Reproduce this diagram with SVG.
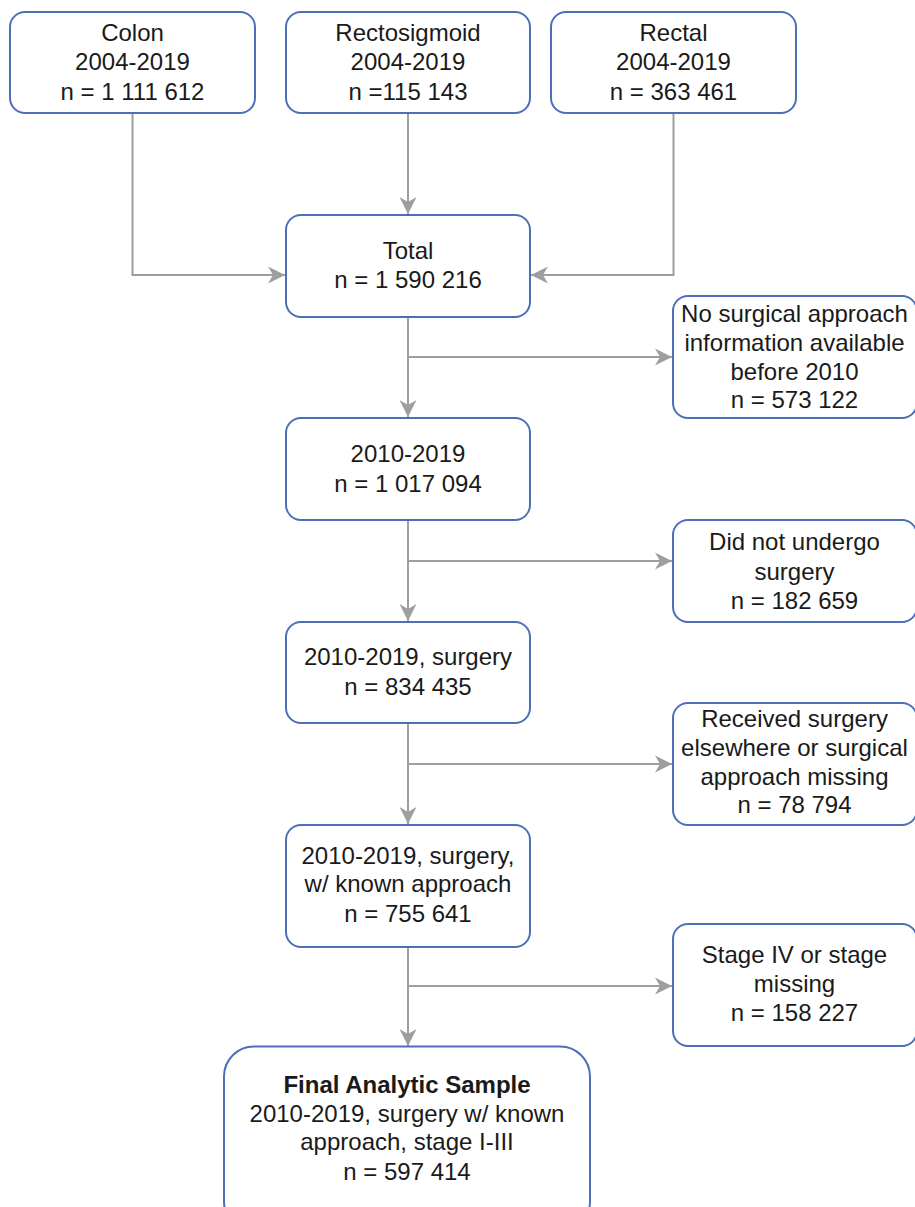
<svg xmlns="http://www.w3.org/2000/svg" width="915" height="1207" viewBox="0 0 915 1207">
<style>
.box{fill:#ffffff;stroke:#4d6fb8;stroke-width:2}
.t{font-family:"Liberation Sans",Arial,sans-serif;font-size:24px;fill:#1a1a1a;text-anchor:middle}
.b{font-weight:bold}
.c{fill:none;stroke:#9e9e9e;stroke-width:2}
</style>
<defs>
<marker id="arr" markerUnits="userSpaceOnUse" markerWidth="20" markerHeight="20" viewBox="-18 -10 20 20" refX="0" refY="0" orient="auto">
<path d="M0,0 L-17,-8.5 L-12,0 L-17,8.5 Z" fill="#9e9e9e"/>
</marker>
</defs>
<rect width="915" height="1207" fill="#ffffff"/>
<g id="connectors">
<path class="c" d="M132.5,113 V275 H285" marker-end="url(#arr)"/>
<path class="c" d="M408,113 V214" marker-end="url(#arr)"/>
<path class="c" d="M673.5,113 V275 H531" marker-end="url(#arr)"/>
<path class="c" d="M408,317 V417" marker-end="url(#arr)"/>
<path class="c" d="M408,357 H672" marker-end="url(#arr)"/>
<path class="c" d="M408,520 V621" marker-end="url(#arr)"/>
<path class="c" d="M408,561 H672" marker-end="url(#arr)"/>
<path class="c" d="M408,723 V824" marker-end="url(#arr)"/>
<path class="c" d="M408,764 H672" marker-end="url(#arr)"/>
<path class="c" d="M408,947 V1046" marker-end="url(#arr)"/>
<path class="c" d="M408,986 H672" marker-end="url(#arr)"/>
</g>
<g id="colon">
<rect class="box" x="10" y="12" width="245" height="101" rx="15"/>
<text class="t" x="132.5" y="41">Colon</text>
<text class="t" x="132.5" y="70">2004-2019</text>
<text class="t" x="132.5" y="100">n = 1 111 612</text>
</g>
<g id="rectosigmoid">
<rect class="box" x="286" y="12" width="244" height="101" rx="15"/>
<text class="t" x="408" y="41">Rectosigmoid</text>
<text class="t" x="408" y="70">2004-2019</text>
<text class="t" x="408" y="100">n =115 143</text>
</g>
<g id="rectal">
<rect class="box" x="551" y="12" width="245" height="101" rx="15"/>
<text class="t" x="673.5" y="41">Rectal</text>
<text class="t" x="673.5" y="70">2004-2019</text>
<text class="t" x="673.5" y="100">n = 363 461</text>
</g>
<g id="total">
<rect class="box" x="286" y="215" width="244" height="102" rx="15"/>
<text class="t" x="408" y="259">Total</text>
<text class="t" x="408" y="288">n = 1 590 216</text>
</g>
<g id="excl1">
<rect class="box" x="673" y="296" width="244" height="122" rx="15"/>
<text class="t" x="794.5" y="322">No surgical approach</text>
<text class="t" x="794.5" y="351">information available</text>
<text class="t" x="794.5" y="380">before 2010</text>
<text class="t" x="794.5" y="408">n = 573 122</text>
</g>
<g id="y2010">
<rect class="box" x="286" y="418" width="244" height="102" rx="15"/>
<text class="t" x="408" y="462">2010-2019</text>
<text class="t" x="408" y="492">n = 1 017 094</text>
</g>
<g id="excl2">
<rect class="box" x="673" y="520" width="244" height="102" rx="15"/>
<text class="t" x="794.5" y="550">Did not undergo</text>
<text class="t" x="794.5" y="580">surgery</text>
<text class="t" x="794.5" y="609">n = 182 659</text>
</g>
<g id="surgery">
<rect class="box" x="286" y="622" width="244" height="101" rx="15"/>
<text class="t" x="408" y="665">2010-2019, surgery</text>
<text class="t" x="408" y="695">n = 834 435</text>
</g>
<g id="excl3">
<rect class="box" x="673" y="703" width="244" height="122" rx="15"/>
<text class="t" x="794.5" y="727">Received surgery</text>
<text class="t" x="794.5" y="756">elsewhere or surgical</text>
<text class="t" x="794.5" y="785">approach missing</text>
<text class="t" x="794.5" y="813">n = 78 794</text>
</g>
<g id="known">
<rect class="box" x="286" y="825" width="244" height="122" rx="15"/>
<text class="t" x="408" y="864">2010-2019, surgery,</text>
<text class="t" x="408" y="892">w/ known approach</text>
<text class="t" x="408" y="922">n = 755 641</text>
</g>
<g id="excl4">
<rect class="box" x="673" y="924" width="244" height="122" rx="15"/>
<text class="t" x="794.5" y="963">Stage IV or stage</text>
<text class="t" x="794.5" y="992">missing</text>
<text class="t" x="794.5" y="1021">n = 158 227</text>
</g>
<g id="final">
<rect class="box" x="224" y="1046.5" width="366" height="185" rx="30"/>
<text class="t b" x="407" y="1093">Final Analytic Sample</text>
<text class="t" x="407" y="1122">2010-2019, surgery w/ known</text>
<text class="t" x="407" y="1150">approach, stage I-III</text>
<text class="t" x="407" y="1180">n = 597 414</text>
</g>
</svg>
